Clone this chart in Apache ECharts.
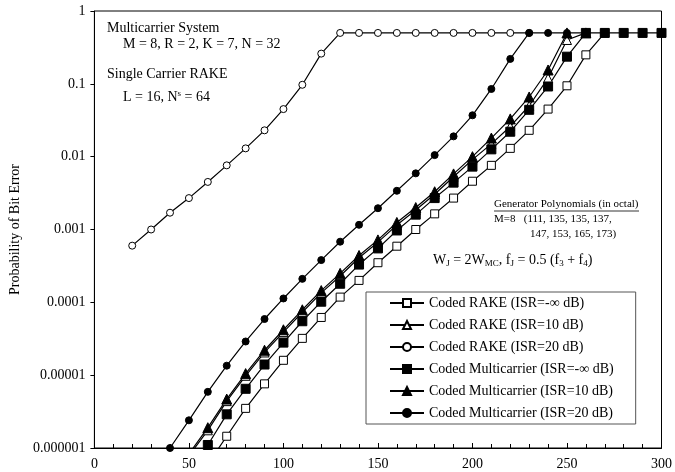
<!DOCTYPE html>
<html>
<head>
<meta charset="utf-8">
<script src="https://cdn.jsdelivr.net/npm/echarts@6/dist/echarts.min.js"></script>
<style>
  html, body { margin: 0; padding: 0; background: #fff; }
  #chart { width: 675px; height: 472px; }
</style>
</head>
<body>
<div id="chart"></div>
<script>
// tick labels of the log axis, one per decade from 1 down to 1e-6
const yTickLabels = ['1', '0.1', '0.01', '0.001', '0.0001', '0.00001', '0.000001'];

const seriesNames = [
  'Coded RAKE (ISR=-∞ dB)',
  'Coded RAKE (ISR=10 dB)',
  'Coded RAKE (ISR=20 dB)',
  'Coded Multicarrier (ISR=-∞ dB)',
  'Coded Multicarrier (ISR=10 dB)',
  'Coded Multicarrier (ISR=20 dB)'
];

// Coded RAKE, ISR = -inf dB
const rakeInfX = [60, 70, 80, 90, 100, 110, 120, 130, 140, 150, 160, 170, 180, 190, 200, 210, 220, 230, 240, 250, 260, 270];
const rakeInfY = [6e-7, 1.45e-6, 3.5e-6, 7.6e-6, 1.6e-5, 3.2e-5, 6.2e-5, 1.18e-4, 2.0e-4, 3.5e-4, 5.9e-4, 1.0e-3, 1.64e-3, 2.7e-3, 4.6e-3, 7.6e-3, 0.013, 0.023, 0.045, 0.094, 0.25, 0.5];

// Coded RAKE, ISR = 10 dB
const rake10X = [50, 60, 70, 80, 90, 100, 110, 120, 130, 140, 150, 160, 170, 180, 190, 200, 210, 220, 230, 240, 250, 260];
const rake10Y = [7.8e-7, 1.75e-6, 4.4e-6, 9.8e-6, 2.05e-5, 3.9e-5, 7.3e-5, 1.35e-4, 2.3e-4, 4.1e-4, 6.7e-4, 1.15e-3, 1.85e-3, 3.05e-3, 5.3e-3, 9.1e-3, 0.015, 0.026, 0.05, 0.12, 0.40, 0.5];

// Coded RAKE, ISR = 20 dB
const rake20X = [20, 30, 40, 50, 60, 70, 80, 90, 100, 110, 120, 130, 140, 150, 160, 170, 180, 190, 200, 210, 220, 230];
const rake20Y = [6e-4, 1e-3, 1.7e-3, 2.7e-3, 4.5e-3, 7.6e-3, 0.013, 0.023, 0.045, 0.097, 0.26, 0.5, 0.5, 0.5, 0.5, 0.5, 0.5, 0.5, 0.5, 0.5, 0.5, 0.5];

// Coded Multicarrier, ISR = -inf dB
const mcInfX = [50, 60, 70, 80, 90, 100, 110, 120, 130, 140, 150, 160, 170, 180, 190, 200, 210, 220, 230, 240, 250, 260, 270, 280, 290, 300];
const mcInfY = [4.5e-7, 1.1e-6, 2.9e-6, 6.5e-6, 1.4e-5, 2.8e-5, 5.5e-5, 1.02e-4, 1.8e-4, 3.3e-4, 5.5e-4, 9.7e-4, 1.6e-3, 2.7e-3, 4.4e-3, 7.3e-3, 0.0126, 0.022, 0.044, 0.092, 0.236, 0.5, 0.5, 0.5, 0.5, 0.5];

// Coded Multicarrier, ISR = 10 dB
const mc10X = [50, 60, 70, 80, 90, 100, 110, 120, 130, 140, 150, 160, 170, 180, 190, 200, 210, 220, 230, 240, 250, 260];
const mc10Y = [8.3e-7, 1.9e-6, 4.7e-6, 1.05e-5, 2.2e-5, 4.2e-5, 7.9e-5, 1.45e-4, 2.5e-4, 4.4e-4, 7.2e-4, 1.25e-3, 2.0e-3, 3.3e-3, 5.8e-3, 0.01, 0.018, 0.033, 0.066, 0.155, 0.5, 0.5];

// Coded Multicarrier, ISR = 20 dB
const mc20X = [40, 50, 60, 70, 80, 90, 100, 110, 120, 130, 140, 150, 160, 170, 180, 190, 200, 210, 220, 230, 240, 250];
const mc20Y = [1e-6, 2.4e-6, 5.9e-6, 1.35e-5, 2.9e-5, 5.9e-5, 1.13e-4, 2.1e-4, 3.8e-4, 6.8e-4, 1.16e-3, 1.96e-3, 3.4e-3, 5.9e-3, 0.0105, 0.019, 0.037, 0.085, 0.22, 0.5, 0.5, 0.5];

const FONT = '"Liberation Serif", "Times New Roman", serif';

const zip = (xs, ys) => xs.map((x, i) => [x, ys[i]]);

const makeSeries = (name, xs, ys, symbol, size, filled) => ({
  name: name,
  type: 'line',
  data: zip(xs, ys),
  symbol: symbol,
  symbolSize: size,
  showAllSymbol: true,
  lineStyle: { color: '#000', width: 1.2 },
  itemStyle: {
    color: filled ? '#000' : '#fff',
    borderColor: '#000',
    borderWidth: 1
  },
  emphasis: { disabled: true }
});

const chart = echarts.init(document.getElementById('chart'));

chart.setOption({
  animation: false,
  backgroundColor: '#fff',
  grid: {
    left: 92,
    right: 12,
    top: 11,
    bottom: 24,
    show: true,
    borderColor: '#000',
    borderWidth: 1
  },
  legend: {
    data: seriesNames,
    orient: 'vertical',
    left: 366,
    top: 292,
    padding: [4, 22, 4, 23],
    itemGap: 8,
    itemWidth: 34,
    itemHeight: 10,
    backgroundColor: '#fff',
    borderColor: '#555',
    borderWidth: 1,
    textStyle: { fontFamily: FONT, fontSize: 14, color: '#000' }
  },
  xAxis: {
    type: 'value',
    min: 0,
    max: 300,
    interval: 50,
    axisLine: { lineStyle: { color: '#000', width: 1 } },
    axisTick: { inside: true, length: 5, lineStyle: { color: '#000' } },
    minorTick: { show: true, splitNumber: 5, length: 4, lineStyle: { color: '#000' } },
    splitLine: { show: false },
    axisLabel: { fontFamily: FONT, fontSize: 14, color: '#000', margin: 9 }
  },
  yAxis: {
    type: 'log',
    logBase: 10,
    min: 1e-6,
    max: 1,
    name: 'Probability of Bit Error',
    nameLocation: 'middle',
    nameGap: 72,
    nameTextStyle: { fontFamily: FONT, fontSize: 14, color: '#000' },
    axisLine: { show: true, lineStyle: { color: '#000', width: 1 } },
    axisTick: { show: true, length: 4, lineStyle: { color: '#000' } },
    splitLine: { show: false },
    axisLabel: {
      fontFamily: FONT,
      fontSize: 14,
      color: '#000',
      margin: 9,
      formatter: v => yTickLabels[Math.round(-Math.log10(v))]
    }
  },
  series: [
    // drawn bottom to top so the filled markers sit over the open ones on the 0.5 plateau
    makeSeries(seriesNames[2], rake20X, rake20Y, 'circle', 7, false),
    makeSeries(seriesNames[1], rake10X, rake10Y, 'triangle', 9, false),
    makeSeries(seriesNames[0], rakeInfX, rakeInfY, 'rect', 8, false),
    makeSeries(seriesNames[5], mc20X, mc20Y, 'circle', 7, true),
    makeSeries(seriesNames[4], mc10X, mc10Y, 'triangle', 10, true),
    makeSeries(seriesNames[3], mcInfX, mcInfY, 'rect', 9, true)
  ],
  graphic: [
    { type: 'text', left: 107, top: 21, style: { text: 'Multicarrier System', font: '14px ' + FONT, fill: '#000' } },
    { type: 'text', left: 123, top: 37, style: { text: 'M = 8, R = 2, K = 7, N = 32', font: '14px ' + FONT, fill: '#000' } },
    { type: 'text', left: 107, top: 67, style: { text: 'Single Carrier RAKE', font: '14px ' + FONT, fill: '#000' } },
    {
      type: 'text', left: 123, top: 89,
      style: {
        text: '{a|L = 16, N}{s|s}{a| = 64}',
        fill: '#000',
        rich: {
          a: { fontFamily: FONT, fontSize: 14, color: '#000' },
          s: { fontFamily: FONT, fontSize: 9, color: '#000', padding: [0, 0, 7, 0] }
        }
      }
    },
    { type: 'text', left: 494, top: 199, style: { text: 'Generator Polynomials (in octal)', font: '11px ' + FONT, fill: '#000' } },
    { type: 'line', shape: { x1: 494, y1: 211, x2: 639, y2: 211 }, style: { stroke: '#000', lineWidth: 0.8 } },
    { type: 'text', left: 494, top: 214, style: { text: 'M=8   (111, 135, 135, 137,', font: '11px ' + FONT, fill: '#000' } },
    { type: 'text', left: 530, top: 229, style: { text: '147, 153, 165, 173)', font: '11px ' + FONT, fill: '#000' } },
    {
      type: 'text', left: 433, top: 253,
      style: {
        text: '{a|W}{b|J}{a| = 2W}{b|MC}{a|, f}{b|J}{a| = 0.5 (f}{b|3}{a| + f}{b|4}{a|)}',
        fill: '#000',
        rich: {
          a: { fontFamily: FONT, fontSize: 14, color: '#000' },
          b: { fontFamily: FONT, fontSize: 9, color: '#000', padding: [7, 0, 0, 0] }
        }
      }
    }
  ]
});
</script>
</body>
</html>
